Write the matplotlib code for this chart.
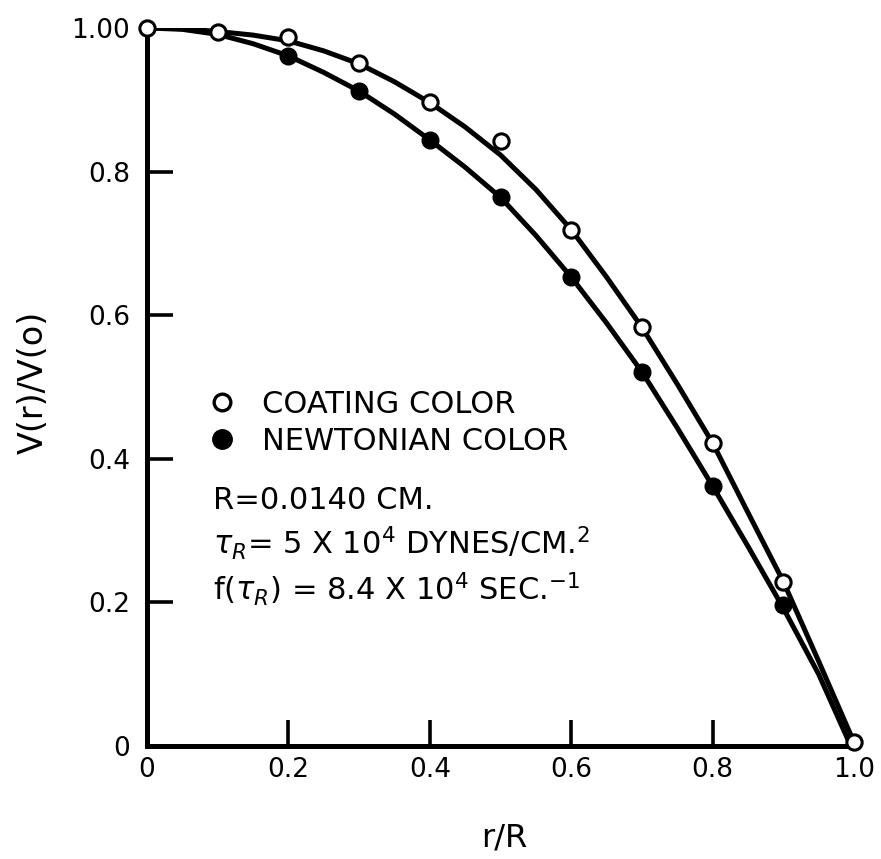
"""
Velocity profile V(r)/V(o) vs r/R for a coating color and a Newtonian color.
"""

import matplotlib
matplotlib.use("Agg")
import matplotlib.pyplot as plt
from matplotlib.lines import Line2D

# open circles: coating color
coating_x = [0.0, 0.1, 0.2, 0.3, 0.4, 0.5, 0.6, 0.7, 0.8, 0.9, 1.0]
coating_y = [1.000, 0.994, 0.987, 0.951, 0.897, 0.843, 0.718, 0.583, 0.422, 0.229, 0.005]

# filled circles: newtonian color
newton_x = [0.2, 0.3, 0.4, 0.5, 0.6, 0.7, 0.8, 0.9]
newton_y = [0.961, 0.912, 0.844, 0.765, 0.653, 0.521, 0.362, 0.196]

# hand-drawn curves, every 0.05
coating_curve_x = [0.0, 0.05, 0.1, 0.15, 0.2, 0.25, 0.3, 0.35, 0.4, 0.45, 0.5,
                   0.55, 0.6, 0.65, 0.7, 0.75, 0.8, 0.85, 0.9, 0.95, 1.0]
coating_curve_y = [1.000, 0.999, 0.995, 0.990, 0.982, 0.968, 0.950, 0.925, 0.896, 0.862, 0.823,
                   0.775, 0.719, 0.653, 0.583, 0.504, 0.422, 0.325, 0.229, 0.118, 0.005]
newton_curve_x = [0.0, 0.05, 0.1, 0.15, 0.2, 0.25, 0.3, 0.35, 0.4, 0.45, 0.5,
                  0.55, 0.6, 0.65, 0.7, 0.75, 0.8, 0.85, 0.9, 0.95, 0.99]
newton_curve_y = [1.000, 0.998, 0.991, 0.978, 0.961, 0.938, 0.912, 0.880, 0.844, 0.806, 0.764,
                  0.711, 0.653, 0.589, 0.521, 0.443, 0.362, 0.278, 0.192, 0.100, 0.012]

x_ticks = [0.0, 0.2, 0.4, 0.6, 0.8, 1.0]
x_tick_labels = ["0", "0.2", "0.4", "0.6", "0.8", "1.0"]
y_ticks = [0.0, 0.2, 0.4, 0.6, 0.8, 1.0]
y_tick_labels = ["0", "0.2", "0.4", "0.6", "0.8", "1.00"]

legend_labels = ["COATING COLOR", "NEWTONIAN COLOR"]
notes = [
    "R=0.0140 CM.",
    r"$\tau_R$= 5 X 10$^4$ DYNES/CM.$^2$",
    r"f($\tau_R$) = 8.4 X 10$^4$ SEC.$^{-1}$",
]

LW = 3.6

fig = plt.figure(figsize=(8.81, 8.59), dpi=100)
ax = fig.add_axes([0.1669, 0.1315, 0.8025, 0.836])

ax.plot(coating_curve_x, coating_curve_y, color="black", lw=LW, zorder=2,
        solid_joinstyle="round")
ax.plot(newton_curve_x, newton_curve_y, color="black", lw=LW, zorder=2,
        solid_joinstyle="round")
ax.plot(coating_x, coating_y, ls="none", marker="o", ms=11, mfc="white",
        mec="black", mew=2.2, clip_on=False, zorder=4)
ax.plot(newton_x, newton_y, ls="none", marker="o", ms=12, mfc="black",
        mec="black", clip_on=False, zorder=3)

ax.set_xlim(0, 1.0)
ax.set_ylim(0, 1.0)
for side in ["top", "right"]:
    ax.spines[side].set_visible(False)
for side in ["left", "bottom"]:
    ax.spines[side].set_linewidth(3.6)

ax.set_xticks(x_ticks)
ax.set_xticklabels(x_tick_labels)
ax.set_yticks(y_ticks)
ax.set_yticklabels(y_tick_labels)
ax.tick_params(direction="in", length=19, width=2.6, labelsize=19, pad=8)
ax.tick_params(axis="y", pad=12)
for t in [ax.xaxis.get_major_ticks()[0], ax.xaxis.get_major_ticks()[-1],
          ax.yaxis.get_major_ticks()[0], ax.yaxis.get_major_ticks()[-1]]:
    t.tick1line.set_visible(False)

ax.set_xlabel("r/R", fontsize=23, va="center")
ax.xaxis.set_label_coords(0.505, -0.128)
ax.set_ylabel("V(r)/V(o)", fontsize=24, va="center")
ax.yaxis.set_label_coords(-0.161, 0.507)

handles = [
    Line2D([], [], ls="none", marker="o", ms=12, mfc="white", mec="black", mew=2.4),
    Line2D([], [], ls="none", marker="o", ms=14, mfc="black", mec="black"),
]
ax.legend(handles, legend_labels, frameon=False,
          loc="upper left", bbox_to_anchor=(0.072, 0.513), fontsize=22,
          handlelength=0.8, handletextpad=0.9, labelspacing=0.25,
          borderaxespad=0)

note_y = [0.342, 0.283, 0.218]
for line, y in zip(notes, note_y):
    ax.text(0.093, y, line, fontsize=22, va="center", ha="left")

fig.savefig("out.png", dpi=100)
